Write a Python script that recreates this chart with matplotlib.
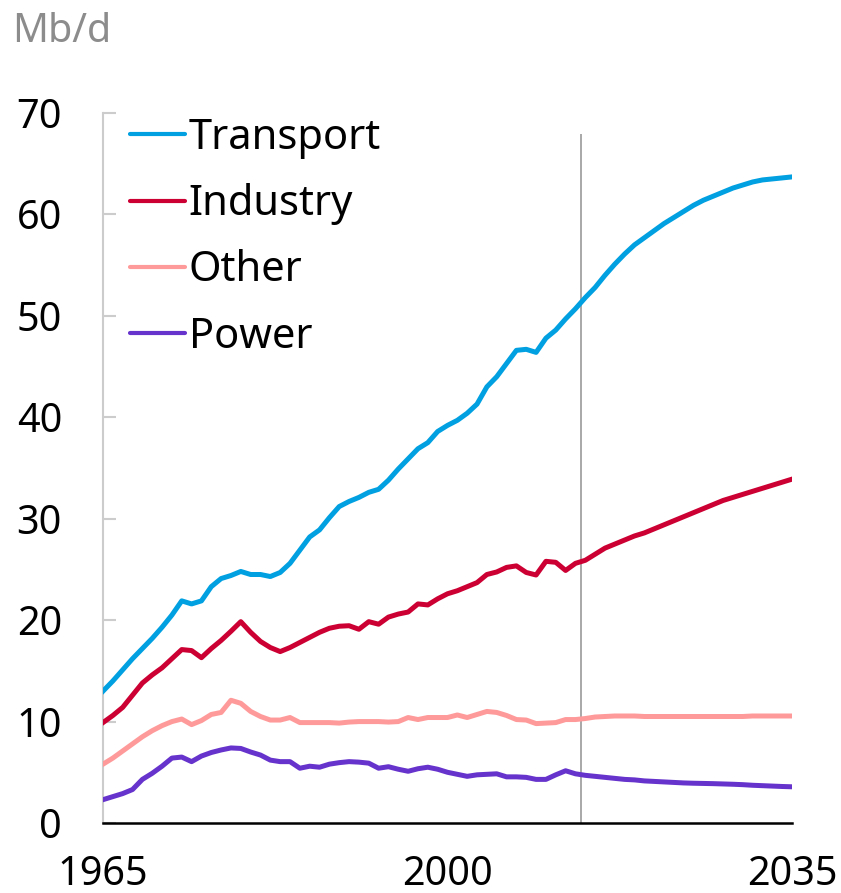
import matplotlib
import numpy as np

matplotlib.use("Agg")
import matplotlib.pyplot as plt  # noqa: E402

plt.rcParams["font.family"] = ["Noto Sans", "DejaVu Sans"]

# oil demand by sector, Mb/d (history to 2013, projection to 2035)
years = np.arange(1965, 2036)
transport = [13.0, 14.0, 15.1, 16.2, 17.2, 18.2, 19.3, 20.5, 21.9, 21.6,
             21.9, 23.3, 24.1, 24.4, 24.8, 24.5, 24.5, 24.3, 24.7, 25.6,
             26.9, 28.2, 28.9, 30.1, 31.2, 31.7, 32.1, 32.6, 32.9, 33.8,
             34.9, 35.9, 36.9, 37.5, 38.6, 39.2, 39.7, 40.4, 41.3, 43.0,
             44.0, 45.3, 46.6, 46.7, 46.4, 47.8, 48.6, 49.7, 50.7, 51.8,
             52.8, 54.0, 55.1, 56.1, 57.0, 57.7, 58.4, 59.1, 59.7, 60.3,
             60.9, 61.4, 61.8, 62.2, 62.6, 62.9, 63.2, 63.4, 63.5, 63.6,
             63.7]
industry = [9.9, 10.6, 11.4, 12.6, 13.8, 14.6, 15.3, 16.2, 17.1, 17.0,
            16.3, 17.2, 18.0, 18.9, 19.85, 18.8, 17.9, 17.3, 16.9, 17.3,
            17.8, 18.3, 18.8, 19.2, 19.4, 19.45, 19.1, 19.85, 19.6, 20.3,
            20.6, 20.8, 21.6, 21.5, 22.1, 22.6, 22.9, 23.3, 23.7, 24.5,
            24.75, 25.2, 25.35, 24.7, 24.45, 25.8, 25.7, 24.9, 25.6, 25.9,
            26.5, 27.1, 27.5, 27.9, 28.3, 28.6, 29.0, 29.4, 29.8, 30.2,
            30.6, 31.0, 31.4, 31.8, 32.1, 32.4, 32.7, 33.0, 33.3, 33.6,
            33.9]
other = [5.8, 6.4, 7.1, 7.8, 8.5, 9.1, 9.6, 10.0, 10.25, 9.7,
         10.1, 10.7, 10.9, 12.1, 11.8, 11.0, 10.5, 10.15, 10.15, 10.4,
         9.9, 9.9, 9.9, 9.9, 9.85, 9.95, 10.0, 10.0, 10.0, 9.95,
         10.0, 10.4, 10.2, 10.4, 10.4, 10.4, 10.65, 10.4, 10.7, 11.0,
         10.9, 10.6, 10.2, 10.15, 9.8, 9.85, 9.9, 10.2, 10.2, 10.3,
         10.45, 10.5, 10.55, 10.55, 10.55, 10.5, 10.5, 10.5, 10.5, 10.5,
         10.5, 10.5, 10.5, 10.5, 10.5, 10.5, 10.55, 10.55, 10.55, 10.55,
         10.55]
power = [2.3, 2.6, 2.9, 3.3, 4.3, 4.9, 5.6, 6.4, 6.5, 6.05,
         6.6, 6.95, 7.2, 7.4, 7.35, 7.0, 6.7, 6.2, 6.05, 6.05,
         5.4, 5.6, 5.5, 5.8, 5.95, 6.05, 6.0, 5.9, 5.4, 5.55,
         5.3, 5.1, 5.35, 5.5, 5.3, 5.0, 4.8, 4.6, 4.75, 4.8,
         4.85, 4.55, 4.55, 4.5, 4.3, 4.3, 4.75, 5.15, 4.85, 4.7,
         4.6, 4.5, 4.4, 4.3, 4.25, 4.15, 4.1, 4.05, 4.0, 3.95,
         3.92, 3.9, 3.88, 3.85, 3.82, 3.78, 3.72, 3.68, 3.64, 3.6,
         3.57]

series = [("Transport", transport, "#00A0E1"),
          ("Industry", industry, "#CC0033"),
          ("Other", other, "#FF9A9A"),
          ("Power", power, "#6633CC")]
split_year = 2013.6

W, H = 841, 893
fig = plt.figure(figsize=(W / 100, H / 100), dpi=100)
ax = fig.add_axes([103 / W, (H - 823) / H, 689 / W, 710 / H])

ax.vlines(split_year, 0, 67.9, color="#999999", lw=1.2, zorder=1)
for name, vals, col in series:
    ax.plot(years, vals, color=col, lw=3.6, label=name, zorder=3,
            solid_joinstyle="round")

ax.set_xlim(1965, 2035)
ax.set_ylim(0, 70)
ax.set_xticks([1965, 2000, 2035])
ax.set_yticks(range(0, 80, 10))
ax.tick_params(axis="x", length=0, pad=23, labelsize=28.5)
ax.tick_params(axis="y", direction="in", length=9, width=1.5, color="#cccccc",
               pad=29.5, labelsize=28.5)
for sp in ["top", "right"]:
    ax.spines[sp].set_visible(False)
ax.spines["left"].set_color("#cccccc")
ax.spines["left"].set_linewidth(1.5)
ax.spines["bottom"].set_color("black")
ax.spines["bottom"].set_linewidth(1.8)

leg = ax.legend(loc="upper left", bbox_to_anchor=(130 / W, 1 - 117 / H),
                bbox_transform=fig.transFigure, frameon=False, fontsize=30,
                handlelength=1.31, handletextpad=0.1, labelspacing=0.58,
                borderpad=0, borderaxespad=0)
for ln in leg.get_lines():
    ln.set_linewidth(3.0)
    ln.set_solid_capstyle("round")

fig.text(12 / W, 1 - 42 / H, "Mb/d", color="#8c8c8c", fontsize=28.5,
         va="baseline", ha="left")

fig.savefig("out.png", dpi=100)
